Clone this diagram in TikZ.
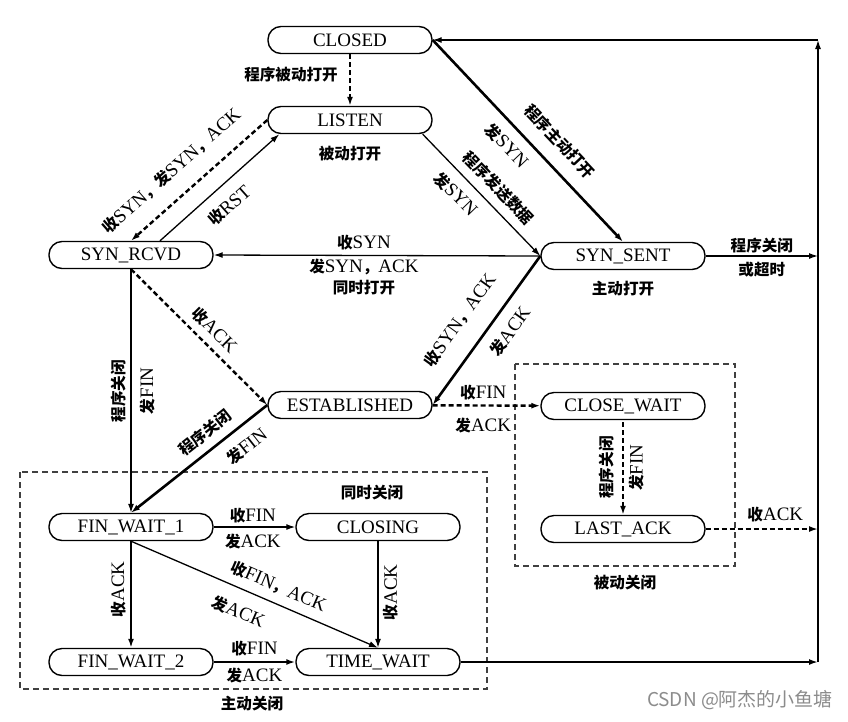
\documentclass[tikz,border=0pt]{standalone}
\usepackage{fontspec}
\setmainfont{Liberation Serif}
\newfontfamily\cjkfont[Scale=0.82]{Noto Sans CJK SC}
\newfontfamily\markfont{Noto Sans CJK SC}
\newcommand{\zh}[1]{{\cjkfont\bfseries #1}}
\usepackage{tikz}
\usetikzlibrary{positioning, arrows.meta}

\begin{document}
\begin{tikzpicture}[x=1pt, y=-1pt, font=\fontsize{19}{21}\selectfont,
  >={Latex[length=9pt,width=6pt]},
  state/.style={draw, line width=1.4pt, rounded corners=13pt,
        minimum width=164pt, minimum height=27pt, inner sep=0pt},
  plainarr/.style={->, line width=1.3pt},
  heavyarr/.style={->, line width=2.6pt},
  dasharr/.style={->, line width=2.4pt, dash pattern=on 5pt off 3pt},
  groupbox/.style={line width=1.2pt, black!75, dash pattern=on 6pt off 4pt},
  lbl/.style={inner sep=1pt}]
  \fill[white] (0,0) rectangle (848,721);
  \useasboundingbox (0,0) rectangle (848,721);

  % states
  \node[state] (closed)    at (350,40)  {CLOSED};
  \node[state] (listen)    at (350,120) {LISTEN};
  \node[state] (synrcvd)   at (131,255) {SYN\_RCVD};
  \node[state] (synsent)   at (623,256) {SYN\_SENT};
  \node[state] (estab)     at (350,405) {ESTABLISHED};
  \node[state] (closewait) at (623,406) {CLOSE\_WAIT};
  \node[state] (lastack)   at (623,529) {LAST\_ACK};
  \node[state] (finwait1)  at (131,527) {FIN\_WAIT\_1};
  \node[state] (closing)   at (378,527) {CLOSING};
  \node[state] (finwait2)  at (131,662) {FIN\_WAIT\_2};
  \node[state] (timewait)  at (378,662) {TIME\_WAIT};

  \coordinate (rtop)  at (818,40);
  \coordinate (rsent) at (818,256);
  \coordinate (rlast) at (818,529);
  \coordinate (rbot)  at (818,662);

  % groups
  \draw[groupbox] (20,472) rectangle (487,689);
  \draw[groupbox] (515,364) rectangle (735,566);
  \node[lbl] (simclose) at (372,493) {\zh{同时关闭}};
  \node[lbl] (actclose) at (252,704) {\zh{主动关闭}};
  \node[lbl] (pasclose) at (625,583) {\zh{被动关闭}};
  \node[lbl, below=11pt of listen] (pasopen) {\zh{被动打开}};
  \node[lbl, below=10pt of synsent] (actopen) {\zh{主动打开}};

  % opening
  \draw[dasharr] (closed) -- (listen)
    node[lbl, pos=0.4, left=10pt] {\zh{程序被动打开}};
  \draw[dasharr] (listen.west) -- (synrcvd.north)
    node[lbl, sloped, pos=0.58, above=15pt] {\zh{收}SYN\zh{，发}SYN\zh{，}ACK};
  \draw[plainarr] ([xshift=29pt]synrcvd.north) -- ([xshift=12pt]listen.south west)
    node[lbl, sloped, pos=0.47, below=11pt] {\zh{收}RST};
  \draw[heavyarr] (closed.east) -- (synsent.north)
    node[lbl, sloped, pos=0.58, above=13pt] {\zh{程序主动打开}}
    node[lbl, sloped, pos=0.46, below=9pt] {\zh{发}SYN};
  \draw[plainarr] ([xshift=-10pt]listen.south east) -- (synsent.west)
    node[lbl, sloped, pos=0.54, above=8pt] {\zh{程序发送数据}}
    node[lbl, sloped, pos=0.39, below=9pt] {\zh{发}SYN};
  \draw[plainarr] (synsent.west) -- (synrcvd.east)
    node[lbl, pos=0.54, above=4pt] {\zh{收}SYN}
    node[lbl, pos=0.54, below=2pt, align=center] {\zh{发}SYN\zh{，}ACK\\\zh{同时打开}};
  \draw[dasharr] (synrcvd.south) -- (estab.west)
    node[lbl, sloped, pos=0.53, above=6pt] {\zh{收}ACK};
  \draw[heavyarr] (synsent.west) -- (estab.east)
    node[lbl, sloped, pos=0.54, above=17pt] {\zh{收}SYN\zh{，}ACK}
    node[lbl, sloped, pos=0.43, below=10pt] {\zh{发}ACK};
  \draw[plainarr] (synsent) -- (rsent)
    node[lbl, pos=0.5, above=1pt] {\zh{程序关闭}}
    node[lbl, pos=0.5, below=4pt] {\zh{或超时}};

  % closing
  \draw[plainarr, <-] (finwait1) -- (synrcvd)
    node[lbl, sloped, pos=0.5, above=3pt] {\zh{程序关闭}}
    node[lbl, sloped, pos=0.5, below=7pt] {\zh{发}FIN};
  \draw[heavyarr] (estab.west) -- (finwait1.north)
    node[lbl, sloped, pos=0.38, above=7pt] {\zh{程序关闭}}
    node[lbl, sloped, pos=0.24, below=10pt] {\zh{发}FIN};
  \draw[dasharr] (estab) -- (closewait)
    node[lbl, pos=0.47, above=3pt] {\zh{收}FIN}
    node[lbl, pos=0.47, below=10pt] {\zh{发}ACK};
  \draw[dasharr, <-] (lastack) -- (closewait)
    node[lbl, sloped, pos=0.5, above=7pt] {\zh{程序关闭}}
    node[lbl, sloped, pos=0.5, below=4pt] {\zh{发}FIN};
  \draw[dasharr] (lastack) -- (rlast)
    node[lbl, pos=0.62, above=5pt] {\zh{收}ACK};
  \draw[plainarr] (finwait1) -- (closing)
    node[lbl, pos=0.48, above=2pt] {\zh{收}FIN}
    node[lbl, pos=0.48, below=5pt] {\zh{发}ACK};
  \draw[heavyarr, <-] (finwait2) -- (finwait1)
    node[lbl, sloped, pos=0.55, above=3pt] {\zh{收}ACK};
  \draw[plainarr] (finwait1.south) -- (timewait.north)
    node[lbl, sloped, pos=0.57, above=7pt] {\zh{收}FIN\zh{，}ACK}
    node[lbl, sloped, pos=0.47, below=13pt] {\zh{发}ACK};
  \draw[plainarr, <-] (timewait) -- (closing)
    node[lbl, sloped, pos=0.52, below=4pt] {\zh{收}ACK};
  \draw[heavyarr] (finwait2) -- (timewait)
    node[lbl, pos=0.5, above=4pt] {\zh{收}FIN}
    node[lbl, pos=0.5, below=4pt] {\zh{发}ACK};
  \draw[heavyarr] (timewait) -- (rbot);
  \draw[plainarr] (rbot) -- (rtop);
  \draw[plainarr] (rtop) -- (closed);

  \node[text=black!45, font=\markfont\fontsize{19}{21}\selectfont] (mark) at (740,700) {CSDN @阿杰的小鱼塘};
\end{tikzpicture}
\end{document}
